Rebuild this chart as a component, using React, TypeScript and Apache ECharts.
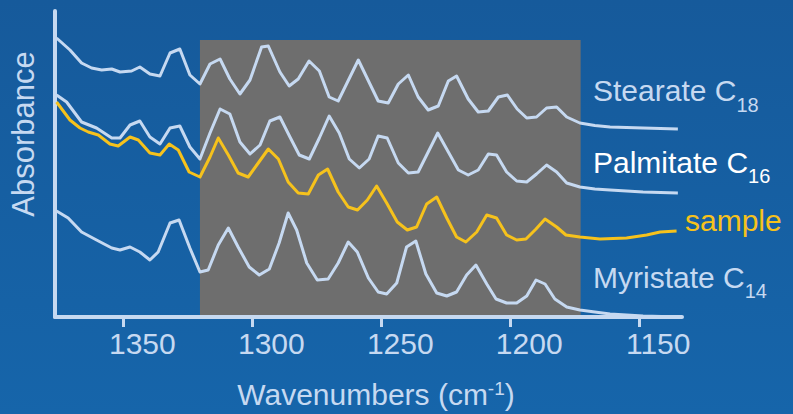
import React, { useEffect, useRef } from 'react';
import * as echarts from 'echarts';

// Wavenumber (cm-1) tick values
const tickValues = [1350, 1300, 1250, 1200, 1150];

// Highlighted region (cm-1)
const regionStart = 1320.3;
const regionEnd = 1172.7;
const regionTop = 2.77;

// Spectra: [wavenumber, absorbance (a.u., offset stacked)]
const stearate: [number, number][] = [
  [1375.9, 2.79], [1370.7, 2.67], [1366.2, 2.54], [1362.3, 2.49], [1358.4, 2.47], [1354.5, 2.48],
  [1351.3, 2.45], [1346.8, 2.46], [1343.6, 2.5], [1339.7, 2.43], [1335.8, 2.41], [1331.9, 2.64],
  [1328.1, 2.68], [1324.2, 2.42], [1320.3, 2.33], [1316.4, 2.53], [1312.5, 2.58], [1308.7, 2.38],
  [1304.8, 2.23], [1300.9, 2.37], [1296.4, 2.7], [1293.8, 2.71], [1289.3, 2.45], [1285.7, 2.31],
  [1282.2, 2.38], [1278.0, 2.56], [1274.0, 2.46], [1270.2, 2.2], [1266.7, 2.16], [1258.9, 2.57],
  [1251.2, 2.16], [1247.3, 2.14], [1243.4, 2.33], [1239.5, 2.42], [1235.7, 2.2], [1231.8, 2.07],
  [1227.9, 2.11], [1224.0, 2.36], [1220.8, 2.41], [1216.3, 2.18], [1212.4, 2.05], [1208.5, 2.06],
  [1204.6, 2.2], [1201.1, 2.22], [1197.3, 2.08], [1193.6, 1.99], [1189.8, 2.0], [1185.9, 2.09],
  [1182.0, 2.1], [1178.1, 2.0], [1173.0, 1.94], [1167.2, 1.915], [1161.3, 1.9], [1148.5, 1.89],
  [1135.0, 1.88],
];

const palmitate: [number, number][] = [
  [1375.9, 2.22], [1372.0, 2.15], [1366.2, 1.95], [1360.4, 1.89], [1354.5, 1.79], [1351.3, 1.79],
  [1347.4, 1.92], [1343.6, 1.96], [1339.7, 1.8], [1335.8, 1.73], [1331.9, 1.89], [1328.1, 1.91],
  [1324.2, 1.7], [1320.3, 1.58], [1316.4, 1.84], [1312.5, 2.08], [1308.7, 2.03], [1304.8, 1.75],
  [1300.9, 1.63], [1297.0, 1.72], [1293.2, 1.96], [1289.3, 2.0], [1285.4, 1.8], [1281.8, 1.62],
  [1277.9, 1.58], [1274.0, 1.79], [1270.2, 2.01], [1266.3, 1.84], [1262.4, 1.58], [1258.5, 1.49],
  [1254.7, 1.58], [1251.2, 1.81], [1247.7, 1.79], [1243.4, 1.54], [1239.5, 1.44], [1235.7, 1.45],
  [1231.8, 1.65], [1228.1, 1.84], [1224.0, 1.65], [1220.1, 1.47], [1216.3, 1.42], [1212.4, 1.47],
  [1208.5, 1.63], [1205.3, 1.62], [1201.4, 1.45], [1197.5, 1.36], [1193.6, 1.35], [1189.8, 1.43],
  [1185.9, 1.52], [1182.0, 1.45], [1178.1, 1.34], [1173.0, 1.3], [1167.2, 1.28], [1161.3, 1.27],
  [1148.5, 1.25], [1135.0, 1.24],
];

const sample: [number, number][] = [
  [1375.9, 2.15], [1370.7, 1.97], [1366.8, 1.89], [1363.6, 1.85], [1359.7, 1.82], [1355.2, 1.73],
  [1352.0, 1.71], [1347.4, 1.8], [1344.2, 1.77], [1339.7, 1.64], [1335.8, 1.62], [1332.2, 1.73],
  [1328.7, 1.67], [1324.5, 1.45], [1320.3, 1.4], [1316.4, 1.6], [1313.2, 1.79], [1309.3, 1.62],
  [1305.5, 1.44], [1301.6, 1.4], [1297.7, 1.54], [1293.8, 1.68], [1289.9, 1.58], [1286.1, 1.35],
  [1282.2, 1.24], [1278.3, 1.23], [1274.4, 1.42], [1270.8, 1.48], [1266.7, 1.25], [1262.8, 1.1],
  [1259.2, 1.07], [1255.4, 1.17], [1251.8, 1.31], [1247.9, 1.14], [1243.8, 0.95], [1239.9, 0.87],
  [1236.3, 0.9], [1232.4, 1.13], [1228.5, 1.2], [1224.6, 0.99], [1220.8, 0.8], [1217.2, 0.75],
  [1213.0, 0.85], [1209.1, 1.02], [1205.3, 0.99], [1201.4, 0.82], [1197.5, 0.77], [1193.9, 0.78],
  [1190.0, 0.88], [1186.5, 0.98], [1182.0, 0.9], [1178.4, 0.82], [1173.0, 0.8], [1165.2, 0.78],
  [1154.9, 0.79], [1147.1, 0.82], [1141.9, 0.85], [1135.5, 0.86],
];

const myristate: [number, number][] = [
  [1375.9, 1.06], [1371.4, 0.99], [1366.2, 0.85], [1360.4, 0.77], [1354.5, 0.69], [1351.3, 0.67],
  [1347.4, 0.7], [1343.6, 0.65], [1339.7, 0.57], [1336.5, 0.65], [1331.9, 0.94], [1328.4, 0.97],
  [1324.2, 0.69], [1320.3, 0.45], [1317.1, 0.47], [1313.2, 0.72], [1309.3, 0.89], [1305.5, 0.7],
  [1301.2, 0.5], [1297.3, 0.42], [1293.4, 0.48], [1289.6, 0.74], [1286.1, 1.04], [1282.8, 0.87],
  [1278.9, 0.54], [1274.8, 0.37], [1270.6, 0.38], [1266.7, 0.54], [1262.8, 0.75], [1259.3, 0.65],
  [1255.0, 0.39], [1251.2, 0.25], [1247.9, 0.23], [1244.0, 0.34], [1240.2, 0.7], [1236.6, 0.76],
  [1232.7, 0.43], [1228.5, 0.24], [1224.6, 0.21], [1220.8, 0.25], [1216.9, 0.42], [1213.3, 0.52],
  [1209.1, 0.33], [1205.5, 0.18], [1201.4, 0.14], [1197.5, 0.14], [1193.6, 0.21], [1190.0, 0.37],
  [1186.5, 0.33], [1182.7, 0.18], [1178.1, 0.1], [1173.0, 0.07], [1167.2, 0.05], [1161.3, 0.03],
  [1148.5, 0.01], [1134.2, 0.0],
];

const LB = '#c6d9f1';
const GOLD = '#f6c21c';
const FONT = '"Liberation Sans", Arial, sans-serif';

function labelRich(fill: string) {
  return {
    m: { fontSize: 30, lineHeight: 34, verticalAlign: 'top', fill, fontFamily: FONT },
    s: { fontSize: 20, lineHeight: 20, verticalAlign: 'top', padding: [19, 0, 0, 0], fill, fontFamily: FONT },
  };
}

export default function App() {
  const ref = useRef<HTMLDivElement>(null);
  useEffect(() => {
    document.body.style.margin = '0';
    const chart = echarts.init(ref.current!, null, { renderer: 'svg' });
    const lineSeries = (name: string, data: [number, number][], color: string, z: number) => ({
      name,
      type: 'line',
      data,
      showSymbol: false,
      symbol: 'none',
      z,
      lineStyle: { color, width: 3, join: 'round' },
      xAxisIndex: 0,
      yAxisIndex: 0,
    });
    chart.setOption({
      animation: false,
      backgroundColor: {
        type: 'linear', x: 0, y: 0, x2: 0, y2: 1,
        colorStops: [
          { offset: 0, color: '#165a9b' },
          { offset: 1, color: '#1665aa' },
        ],
      },
      grid: { left: 55, right: 111, top: 11, bottom: 97, containLabel: false },
      xAxis: [
        {
          type: 'value', inverse: true, min: 1133.4, max: 1376.5, position: 'bottom',
          axisLine: { show: true, lineStyle: { color: LB, width: 4 } },
          axisTick: { show: true, length: 10, lineStyle: { color: LB, width: 3 }, customValues: tickValues },
          axisLabel: { show: false },
          splitLine: { show: false },
        },
        {
          type: 'value', inverse: true, min: 1140.77, max: 1383.87, position: 'bottom',
          axisLine: { show: false }, axisTick: { show: false }, splitLine: { show: false },
          axisLabel: {
            show: true, customValues: tickValues, color: LB, fontSize: 30, fontFamily: FONT, margin: 11,
            formatter: (v: number) => String(Math.round(v)),
          },
        },
      ],
      yAxis: {
        type: 'value', min: 0, max: 3.06,
        axisLine: { show: true, lineStyle: { color: LB, width: 4 } },
        axisTick: { show: false }, axisLabel: { show: false }, splitLine: { show: false },
      },
      series: [
        {
          type: 'line', data: [], z: 1, xAxisIndex: 0, yAxisIndex: 0,
          markArea: {
            silent: true,
            itemStyle: { color: '#6e6e6e', opacity: 1 },
            data: [[{ xAxis: regionStart, yAxis: 0.02 }, { xAxis: regionEnd, yAxis: regionTop }]],
          },
        },
        lineSeries('Stearate C18', stearate, LB, 3),
        lineSeries('Palmitate C16', palmitate, LB, 3),
        lineSeries('Myristate C14', myristate, LB, 3),
        lineSeries('sample', sample, GOLD, 4),
      ],
      graphic: [
        {
          type: 'text', x: 23.5, y: 134, rotation: Math.PI / 2,
          style: { text: 'Absorbance', fill: LB, fontSize: 31, fontFamily: FONT, align: 'center', verticalAlign: 'middle' },
        },
        {
          type: 'text', x: 376, y: 379,
          style: {
            text: '{a|Wavenumbers (cm}{b|-1}{a|)}', align: 'center', verticalAlign: 'top',
            rich: {
              a: { fontSize: 30, lineHeight: 34, verticalAlign: 'top', fill: LB, fontFamily: FONT },
              b: { fontSize: 19, lineHeight: 19, verticalAlign: 'top', fill: LB, fontFamily: FONT },
            },
          },
        },
        {
          type: 'text', x: 593, y: 75.7,
          style: { text: '{m|Stearate C}{s|18}', align: 'left', verticalAlign: 'top', rich: labelRich(LB) },
        },
        {
          type: 'text', x: 593, y: 147.3,
          style: { text: '{m|Palmitate C}{s|16}', align: 'left', verticalAlign: 'top', rich: labelRich('#ffffff') },
        },
        {
          type: 'text', x: 685, y: 205.8,
          style: { text: '{m|sample}', align: 'left', verticalAlign: 'top', rich: labelRich(GOLD) },
        },
        {
          type: 'text', x: 593, y: 262.3,
          style: { text: '{m|Myristate C}{s|14}', align: 'left', verticalAlign: 'top', rich: labelRich(LB) },
        },
      ],
    });
    return () => chart.dispose();
  }, []);
  return <div ref={ref} style={{ width: 793, height: 414 }} />;
}
